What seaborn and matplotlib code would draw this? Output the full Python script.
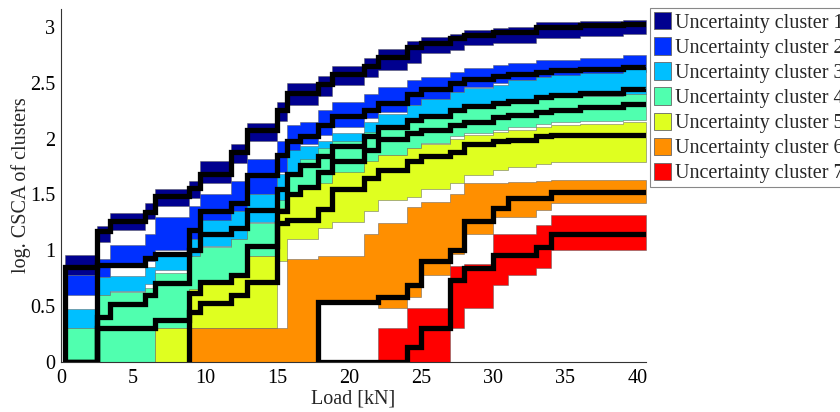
import numpy as np
import matplotlib
matplotlib.use("Agg")
import matplotlib.pyplot as plt
import seaborn as sns
from matplotlib.patches import Patch

# ---------------- data ----------------
load_kn = [0.3, 2.5, 3.4, 5.8, 6.5, 8.9, 9.65, 11.8, 12.9, 15.0, 15.7, 16.6, 17.85,
           18.8, 21.0, 22.0, 24.0, 25.0, 27.0, 28.0, 30.0, 31.0, 33.0, 34.0, 36.0, 39.0, 40.6]

N = None
c1_median = [0.85, 1.17, 1.26, 1.34, 1.49, 1.56, 1.68, 1.88, 2.08, 2.26, 2.41, 2.41, 2.49, 2.58, 2.65, 2.73, 2.82, 2.86, 2.90, 2.93, 2.95, 2.95, 3.00, 3.00, 3.02, 3.03, 3.03]
c1_upper  = [0.96, 1.22, 1.33, 1.42, 1.55, 1.62, 1.80, 1.95, 2.14, 2.33, 2.50, 2.50, 2.56, 2.65, 2.72, 2.80, 2.87, 2.91, 2.94, 2.97, 2.99, 3.00, 3.04, 3.04, 3.05, 3.06, 3.06]
c1_lower  = [0.78, 1.07, 1.18, 1.28, 1.40, 1.47, 1.60, 1.78, 1.98, 2.16, 2.30, 2.30, 2.38, 2.48, 2.55, 2.61, 2.68, 2.77, 2.79, 2.84, 2.86, 2.86, 2.90, 2.90, 2.92, 2.94, 2.94]

c2_median = [0.0, 0.87, 0.87, 0.93, 0.97, 1.18, 1.35, 1.42, 1.67, 1.85, 1.98, 2.02, 2.12, 2.20, 2.26, 2.32, 2.40, 2.44, 2.50, 2.53, 2.56, 2.58, 2.60, 2.61, 2.62, 2.64, 2.65]
c2_upper  = [0.78, 0.92, 1.05, 1.15, 1.30, 1.40, 1.50, 1.62, 1.82, 1.98, 2.12, 2.15, 2.26, 2.33, 2.40, 2.46, 2.52, 2.55, 2.60, 2.63, 2.66, 2.68, 2.70, 2.70, 2.72, 2.75, 2.75]
c2_lower  = [0.60, 0.76, 0.86, 0.90, 1.00, 1.10, 1.20, 1.35, 1.50, 1.70, 1.85, 1.95, 2.03, 2.10, 2.18, 2.24, 2.30, 2.35, 2.42, 2.46, 2.50, 2.52, 2.55, 2.56, 2.58, 2.60, 2.60]

c3_median = [0.0, 0.40, 0.52, 0.60, 0.71, 1.00, 1.15, 1.20, 1.36, 1.55, 1.68, 1.76, 1.84, 1.93, 2.02, 2.10, 2.17, 2.20, 2.26, 2.29, 2.32, 2.34, 2.37, 2.39, 2.41, 2.44, 2.45]
c3_upper  = [0.47, 0.76, 0.77, 0.85, 0.97, 1.10, 1.27, 1.35, 1.50, 1.68, 1.90, 1.93, 1.98, 2.05, 2.15, 2.22, 2.30, 2.35, 2.42, 2.45, 2.48, 2.52, 2.55, 2.57, 2.59, 2.63, 2.63]
c3_lower  = [0.30, 0.60, 0.64, 0.70, 0.82, 0.95, 1.04, 1.10, 1.25, 1.40, 1.55, 1.66, 1.75, 1.84, 1.92, 2.00, 2.08, 2.12, 2.18, 2.22, 2.26, 2.30, 2.34, 2.36, 2.38, 2.40, 2.40]

c4_median = [0.0, 0.30, 0.30, 0.30, 0.38, 0.62, 0.72, 0.78, 1.04, 1.35, 1.50, 1.57, 1.70, 1.80, 1.90, 2.00, 2.05, 2.08, 2.12, 2.15, 2.19, 2.21, 2.24, 2.26, 2.28, 2.31, 2.33]
c4_upper  = [0.30, 0.60, 0.63, 0.66, 0.80, 0.95, 1.03, 1.10, 1.24, 1.45, 1.70, 1.82, 1.92, 1.98, 2.06, 2.12, 2.18, 2.22, 2.27, 2.30, 2.32, 2.34, 2.36, 2.37, 2.38, 2.40, 2.40]
c4_lower  = [0.0, 0.0, 0.0, 0.0, 0.30, 0.55, 0.70, 0.75, 0.95, 1.15, 1.35, 1.45, 1.55, 1.65, 1.75, 1.85, 1.92, 1.96, 2.02, 2.05, 2.08, 2.10, 2.13, 2.15, 2.16, 2.17, 2.17]

c5_median = [N, N, N, N, N, 0.45, 0.53, 0.60, 0.72, 1.24, 1.27, 1.27, 1.37, 1.55, 1.65, 1.72, 1.80, 1.84, 1.88, 1.95, 1.98, 1.99, 2.02, 2.03, 2.03, 2.03, 2.03]
c5_upper  = [N, N, N, N, 0.30, 0.65, 0.70, 0.80, 0.95, 1.38, 1.50, 1.55, 1.60, 1.70, 1.80, 1.85, 1.92, 1.95, 2.00, 2.03, 2.06, 2.08, 2.10, 2.12, 2.13, 2.15, 2.15]
c5_lower  = [N, N, N, N, 0.0, 0.30, 0.30, 0.30, 0.30, 0.90, 1.10, 1.10, 1.20, 1.25, 1.35, 1.45, 1.48, 1.55, 1.60, 1.67, 1.72, 1.75, 1.77, 1.79, 1.79, 1.79, 1.79]

c6_median = [N, N, N, N, N, N, N, N, N, N, N, N, 0.54, 0.54, 0.54, 0.58, 0.69, 0.90, 1.00, 1.26, 1.38, 1.47, 1.47, 1.52, 1.52, 1.52, 1.52]
c6_upper  = [N, N, N, N, N, 0.30, 0.30, 0.30, 0.30, 0.30, 0.92, 0.92, 0.95, 0.95, 1.15, 1.24, 1.39, 1.43, 1.50, 1.60, 1.60, 1.61, 1.62, 1.63, 1.63, 1.63, 1.63]
c6_lower  = [N, N, N, N, N, 0.0, 0.0, 0.0, 0.0, 0.0, 0.0, 0.0, 0.52, 0.52, 0.52, 0.48, 0.58, 0.78, 0.97, 1.15, 1.30, 1.30, 1.36, 1.42, 1.42, 1.42, 1.42]

c7_median = [N, N, N, N, N, N, N, N, N, N, N, N, 0.0, 0.0, 0.0, 0.0, 0.13, 0.30, 0.73, 0.84, 0.96, 0.96, 1.03, 1.15, 1.15, 1.15, 1.15]
c7_upper  = [N, N, N, N, N, N, N, N, N, N, N, N, N, N, N, 0.30, 0.48, 0.48, 0.86, 0.88, 1.15, 1.15, 1.23, 1.32, 1.32, 1.32, 1.32]
c7_lower  = [N, N, N, N, N, N, N, N, N, N, N, N, N, N, N, 0.0, 0.0, 0.0, 0.30, 0.48, 0.69, 0.78, 0.84, 1.00, 1.00, 1.00, 1.00]

cluster_labels = ["Uncertainty cluster %d" % i for i in range(1, 8)]
cluster_colors = ["#00008F", "#0030FF", "#00BFFF", "#50FFAF", "#DFFF20", "#FF8F00", "#FF0000"]

medians = [c1_median, c2_median, c3_median, c4_median, c5_median, c6_median, c7_median]
uppers = [c1_upper, c2_upper, c3_upper, c4_upper, c5_upper, c6_upper, c7_upper]
lowers = [c1_lower, c2_lower, c3_lower, c4_lower, c5_lower, c6_lower, c7_lower]

# ---------------- style ----------------
sns.set_style("white")
plt.rcParams["font.family"] = ["Liberation Serif", "DejaVu Serif"]

fig = plt.figure(figsize=(8.4, 4.12), dpi=100)
ax = fig.add_axes([61 / 840, 50 / 412, (646 - 61) / 840, (362 - 9) / 412])

def to_arr(v):
    return np.array([np.nan if a is None else a for a in v], dtype=float)

xg = np.array(load_kn, dtype=float)

# uncertainty bands
for lo, hi, col in zip(lowers, uppers, cluster_colors):
    lo = to_arr(lo)
    hi = to_arr(hi)
    m = ~np.isnan(lo)
    ax.fill_between(xg[m], lo[m], hi[m], step="post", facecolor=col,
                    edgecolor=(0.35, 0.35, 0.35, 0.55), linewidth=0.6, zorder=2)

# median lines
for med in medians:
    y = to_arr(med)
    m = ~np.isnan(y)
    xs = np.r_[xg[m][0], xg[m]]
    ys = np.r_[0.0, y[m]]
    sns.lineplot(x=xs, y=ys, sort=False, estimator=None, drawstyle="steps-post",
                 color="black", linewidth=3.8, ax=ax, legend=False, zorder=5,
                 solid_joinstyle="miter", solid_capstyle="butt")

ax.set_xlim(0, 40.6)
ax.set_ylim(0, 3.16)
ax.set_xticks([0, 5, 10, 15, 20, 25, 30, 35, 40])
ax.set_xticklabels(["0", "5", "10", "15", "20", "25", "30", "35", "40"])
ax.set_yticks([0, 0.5, 1, 1.5, 2, 2.5, 3])
ax.set_yticklabels(["0", "0.5", "1", "1.5", "2", "2.5", "3"])
ax.tick_params(axis="both", direction="in", length=4, width=0.6, color="#555555",
               labelsize=14.5, labelcolor="black")
ax.tick_params(axis="x", pad=5)
ax.tick_params(axis="y", pad=4)
for s in ["top", "right"]:
    ax.spines[s].set_visible(False)
for s in ["left", "bottom"]:
    ax.spines[s].set_color("#333333")
    ax.spines[s].set_linewidth(0.8)
    ax.spines[s].set_zorder(6)

ax.set_xlabel("Load [kN]", fontsize=14.5, labelpad=1)
ax.set_ylabel("log. CSCA of clusters", fontsize=14.5)
ax.yaxis.set_label_coords(-0.052, 0.5)

handles = [Patch(facecolor=c, edgecolor="#666666", linewidth=0.6) for c in cluster_colors]
leg = fig.legend(handles, cluster_labels, loc="upper left",
                 bbox_to_anchor=(650 / 840, 1 - 8 / 412), bbox_transform=fig.transFigure,
                 borderaxespad=0, fontsize=14.5, handlelength=0.85, handleheight=0.95,
                 handletextpad=0.2, labelspacing=0.225, borderpad=0.2,
                 fancybox=False, shadow=False, framealpha=1, edgecolor="#888888")
leg.get_frame().set_linewidth(0.8)

fig.savefig("out.png", dpi=100)
